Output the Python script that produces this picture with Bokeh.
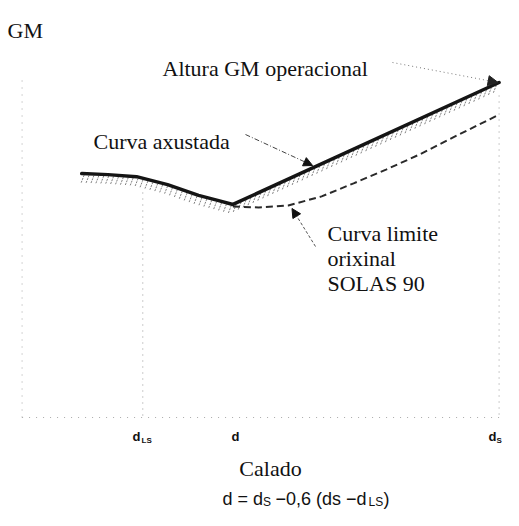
import numpy as np
from bokeh.plotting import figure
from bokeh.models import Range1d, Label, Arrow, NormalHead
from bokeh.embed import file_html
from bokeh.resources import INLINE

# ---- data (schematic units: draft on x, GM on y) ----
draft_marks = [2.53, 4.42, 10.0]          # d_LS, d, d_S
draft_main = ["d", "d", "d"]
draft_sub = ["LS", "", "S"]

adjusted_draft = [1.25, 1.80, 2.40, 3.05, 3.70, 4.10, 4.42, 10.0]
adjusted_gm = [7.28, 7.25, 7.19, 6.95, 6.63, 6.48, 6.36, 10.0]

original_draft = [4.42, 4.96, 5.58, 6.28, 6.95, 7.63, 8.33, 9.12, 10.0]
original_gm = [6.30, 6.27, 6.33, 6.60, 6.99, 7.40, 7.85, 8.42, 9.04]

# ---- helpers: pixel -> data (for annotation placement) ----
KX, KY = 48.6, 33.5
SQ = 512.5 / 503.0                     # slight horizontal squeeze so d_S fits
def sx(px):                            # reference-scale pixel
    return (px - 22) / KX
def sy(py):
    return (417 - py) / KY
def px2x(px):                          # canvas pixel
    return sx(px * SQ)

W, H = 503, 510
X0 = sx(0); X1 = sx(512.5)
Y1 = sy(0); Y0 = Y1 - H / KY

p = figure(width=W, height=H, x_range=Range1d(X0, X1), y_range=Range1d(Y0, Y1),
           output_backend="svg", toolbar_location=None, min_border=0)
p.min_border_left = p.min_border_right = p.min_border_top = p.min_border_bottom = 0
p.axis.visible = False
p.grid.visible = False
p.outline_line_color = None
p.background_fill_color = "white"
p.border_fill_color = "white"

SERIF = "Liberation Serif"
SANS = "Liberation Sans"

# faint dotted axes
p.segment(x0=[0, 0], y0=[sy(80), 0], x1=[0, draft_marks[2]], y1=[0, 0],
          line_color="#aaaaaa", line_width=1, line_dash="1 6")
# guide lines at d_LS and d_S
p.segment(x0=[draft_marks[0], draft_marks[2]], y0=[sy(192), sy(95)],
          x1=[draft_marks[0], draft_marks[2]], y1=[0, 0],
          line_color="#999999", line_width=1, line_dash="1 5")

# hatching under the adjusted curve
xs = np.arange(adjusted_draft[0] + 0.05, adjusted_draft[-1] - 0.05, 5 / KX)
ys = np.interp(xs, adjusted_draft, adjusted_gm)
p.segment(x0=xs, y0=ys - 1.5 / KY, x1=xs - 3 / KX, y1=ys - 9 / KY,
          line_color="#808080", line_width=1, line_dash="2 1")

# original SOLAS 90 limit curve (dashed)
p.line(original_draft, original_gm, line_color="#2a2a2a", line_width=2, line_dash="7 4")
# adjusted curve (solid thick)
p.line(adjusted_draft, adjusted_gm, line_color="#151515", line_width=3.5,
       line_join="round", line_cap="round")

# annotation arrows
p.add_layout(Arrow(x_start=px2x(392), y_start=sy(62), x_end=sx(507), y_end=sy(82),
                   line_color="#777777", line_width=1, line_dash="1 3",
                   end=NormalHead(size=10, fill_color="#222222", line_color="#222222")))
p.add_layout(Arrow(x_start=px2x(245), y_start=sy(134), x_end=sx(318), y_end=sy(165),
                   line_color="#444444", line_width=1, line_dash="5 2 1 2",
                   end=NormalHead(size=9, fill_color="#111111", line_color="#111111")))
p.add_layout(Arrow(x_start=px2x(315), y_start=sy(246), x_end=sx(297), y_end=sy(208),
                   line_color="#555555", line_width=1, line_dash="3 2",
                   end=NormalHead(size=9, fill_color="#111111", line_color="#111111")))

def lab(text, px, py, size="22px", font=SERIF, align="left", style="normal"):
    p.add_layout(Label(x=px2x(px), y=sy(py), text=text, text_font=font,
                       text_font_size=size, text_align=align,
                       text_baseline="alphabetic", text_color="#111111",
                       text_font_style=style))

lab("GM", 7, 30)
lab("Altura GM operacional", 162, 68)
lab("Curva axustada", 93, 141)
lab("Curva limite", 327, 233)
lab("orixinal", 327, 258)
lab("SOLAS 90", 327, 283)
lab("Calado", 270, 468, align="center")

# draft labels under the axis
lab(draft_main[0], 132, 436, size="13px", font=SANS, style="bold")
lab(draft_sub[0], 141, 440, size="8px", font=SANS, style="bold")
lab(draft_main[1], 235, 436, size="13px", font=SANS, align="center", style="bold")
lab(draft_main[2], 488, 436, size="13px", font=SANS, style="bold")
lab(draft_sub[2], 496, 440, size="8px", font=SANS, style="bold")

# formula
FY = 498
lab("d = d", 222, FY, size="18px", font=SANS)
lab("S", 262.5, FY + 3, size="12px", font=SANS)
lab("\u22120,6 (ds \u2212d", 275, FY, size="18px", font=SANS)
lab("LS", 368, FY + 3, size="12px", font=SANS)
lab(")", 383, FY, size="18px", font=SANS)

open("out.html", "w").write(file_html(p, INLINE))
